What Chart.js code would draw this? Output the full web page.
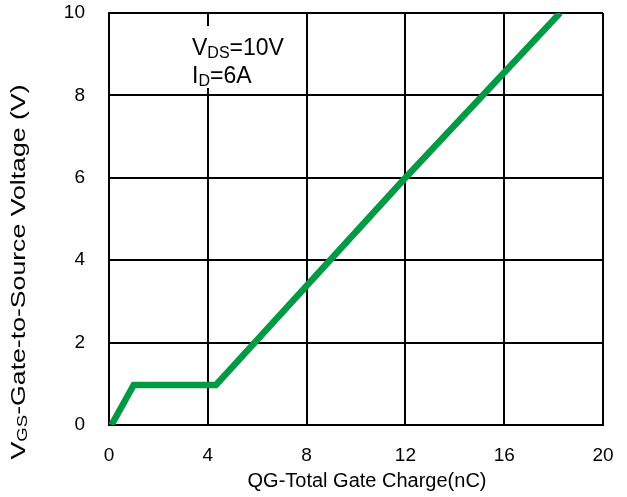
<!DOCTYPE html>
<html>
<head>
<meta charset="utf-8">
<script src="https://cdn.jsdelivr.net/npm/chart.js@4.4.1/dist/chart.umd.min.js"></script>
<style>
  body { margin: 0; background: #fff; }
  #wrap { width: 627px; height: 497px; }
</style>
</head>
<body>
<div id="wrap"><canvas id="myChart" width="627" height="497"></canvas></div>
<script>
// gate charge curve
const chargeNc = [0.1, 1.0, 4.33, 12.0, 18.26];
const vgsVolts = [0, 0.97, 0.97, 6.0, 10.0];

const xTicks = [0, 4, 8, 12, 16, 20];
const yTicks = [0, 2, 4, 6, 8, 10];

const FONT = "'Liberation Sans', Arial, sans-serif";

// draws a string made of [text, isSubscript] parts starting at x
function drawParts(ctx, parts, x, y, size) {
    parts.forEach(([txt, sub]) => {
        const s = sub ? Math.round(size * 0.68) : size;
        ctx.font = s + 'px ' + FONT;
        ctx.fillText(txt, x, sub ? y + size * 0.12 : y);
        x += ctx.measureText(txt).width;
    });
}

function partsWidth(ctx, parts, size) {
    let w = 0;
    parts.forEach(([txt, sub]) => {
        const s = sub ? Math.round(size * 0.68) : size;
        ctx.font = s + 'px ' + FONT;
        w += ctx.measureText(txt).width;
    });
    return w;
}

const textPlugin = {
    id: 'texts',
    beforeDatasetsDraw(chart) {
        const ctx = chart.ctx;
        ctx.save();
        // white box behind the test conditions
        ctx.fillStyle = '#fff';
        ctx.fillRect(186, 26, 112, 62);
        ctx.fillStyle = '#000';
        ctx.textBaseline = 'alphabetic';
        ctx.textAlign = 'left';
        drawParts(ctx, [['V', false], ['DS', true], ['=10V', false]], 192, 55, 23);
        drawParts(ctx, [['I', false], ['D', true], ['=6A', false]], 192, 83, 23);
        ctx.restore();
    },
    afterDraw(chart) {
        const ctx = chart.ctx;
        ctx.save();
        ctx.fillStyle = '#000';
        ctx.textBaseline = 'alphabetic';
        ctx.textAlign = 'left';
        // x axis title
        ctx.font = '20px ' + FONT;
        const xt = 'QG-Total Gate Charge(nC)';
        ctx.fillText(xt, 367 - ctx.measureText(xt).width / 2, 487);
        // y axis title, rotated and stretched along its length like the original
        const yParts = [['V', false], ['GS', true], ['-Gate-to-Source Voltage (V)', false]];
        const w = partsWidth(ctx, yParts, 20);
        ctx.translate(25, 272);
        ctx.rotate(-Math.PI / 2);
        ctx.scale(375 / w, 1);
        drawParts(ctx, yParts, -w / 2, 0, 20);
        ctx.restore();
    }
};

const ctx = document.getElementById('myChart').getContext('2d');

new Chart(ctx, {
    type: 'line',
    data: {
        datasets: [{
            data: chargeNc.map((q, i) => ({ x: q, y: vgsVolts[i] })),
            borderColor: 'rgb(0, 154, 68)',
            borderWidth: 6.5,
            pointRadius: 0,
            tension: 0,
            fill: false
        }]
    },
    options: {
        responsive: false,
        animation: false,
        layout: { padding: { top: 13, right: 24, left: 0, bottom: 0 } },
        plugins: {
            legend: { display: false },
            tooltip: { enabled: false }
        },
        scales: {
            x: {
                type: 'linear',
                min: 0,
                max: 20,
                afterFit: s => { s.height = 72; s.paddingLeft = 0; s.paddingRight = 0; },
                afterBuildTicks: s => { s.ticks = xTicks.map(v => ({ value: v })); },
                border: { color: '#000', width: 2 },
                grid: { color: '#000', lineWidth: 2, drawTicks: false },
                ticks: { padding: 19, color: '#000', font: { family: FONT, size: 19 } }
            },
            y: {
                min: 0,
                max: 10,
                afterFit: s => { s.width = 109; s.paddingTop = 0; s.paddingBottom = 0; },
                afterBuildTicks: s => { s.ticks = yTicks.map(v => ({ value: v })); },
                border: { color: '#000', width: 2 },
                grid: { color: '#000', lineWidth: 2, drawTicks: false },
                ticks: { padding: 24, color: '#000', font: { family: FONT, size: 19 } }
            }
        }
    },
    plugins: [textPlugin]
});
</script>
</body>
</html>
